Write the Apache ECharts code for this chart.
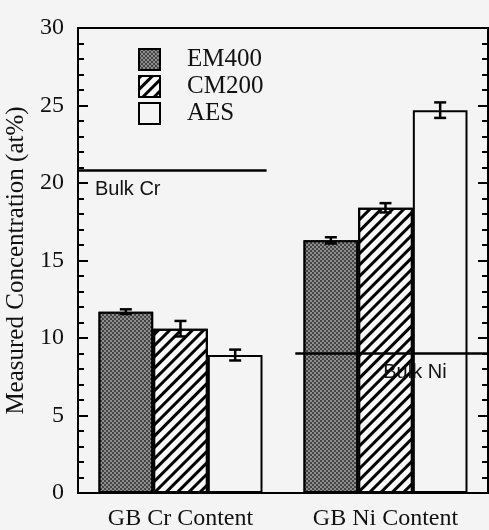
<!DOCTYPE html>
<html>
<head>
<meta charset="utf-8">
<script src="https://cdn.jsdelivr.net/npm/echarts@6/dist/echarts.min.js"></script>
<style>
  html, body { margin: 0; padding: 0; background: #f4f4f4; }
  #main { width: 489px; height: 530px; }
</style>
</head>
<body>
<div id="main"></div>
<script>
const categories = ['GB Cr Content', 'GB Ni Content'];
const methods = ['EM400', 'CM200', 'AES'];
const em400 = [11.7, 16.3];
const em400Err = [0.15, 0.2];
const cm200 = [10.6, 18.4];
const cm200Err = [0.5, 0.3];
const aes = [8.9, 24.7];
const aesErr = [0.35, 0.5];
const yTicks = [0, 5, 10, 15, 20, 25, 30];
// bulk reference lines: [value, start, end] on a 0..2 horizontal scale
const bulkCr = [20.8, 0, 0.92];
const bulkNi = [9.0, 1.06, 2];

const serif = 'Liberation Serif';
const values = [em400, cm200, aes];
const errs = [em400Err, cm200Err, aesErr];

let errData = [];
values.forEach(function (vals, k) {
	vals.forEach(function (v, i) {
		errData.push([i, v - errs[k][i], v + errs[k][i], k]);
	});
});

const chart = echarts.init(document.getElementById('main'));

const axisY = {
	type: 'value',
	min: yTicks[0],
	max: yTicks[yTicks.length - 1],
	interval: 5,
	axisLine: { show: true, lineStyle: { color: '#000', width: 2 } },
	axisTick: { show: true, inside: true, length: 10, lineStyle: { color: '#000', width: 2 } },
	minorTick: { show: true, splitNumber: 5, length: 6, lineStyle: { color: '#000', width: 2 } },
	splitLine: { show: false }
};

function bulkLabel(text, dx) {
	return {
		show: true,
		formatter: function (p) { return p.dataIndex === 0 ? text : ''; },
		position: [dx, 9],
		fontFamily: 'Liberation Sans', fontSize: 20, color: '#111'
	};
}

const option = {
	backgroundColor: '#f4f4f4',
	animation: false,
	grid: {
		left: 78, top: 28, right: 1, bottom: 37,
		outerBoundsMode: 'none',
		show: true, borderColor: '#000', borderWidth: 2
	},
	legend: {
		data: methods,
		orient: 'vertical',
		left: 138, top: 47,
		icon: 'rect',
		itemWidth: 21, itemHeight: 21, itemGap: 2,
		padding: 0,
		textStyle: { fontFamily: serif, fontSize: 25, color: '#111', padding: [0, 0, 0, 22] }
	},
	xAxis: [{
		type: 'category',
		data: categories,
		axisLine: { show: true, lineStyle: { color: '#000', width: 2 } },
		axisTick: { show: false },
		axisLabel: { fontFamily: serif, fontSize: 24, color: '#111', margin: 14 }
	}, {
		type: 'value', min: 0, max: 2, show: false
	}],
	yAxis: [Object.assign({}, axisY, {
		position: 'left',
		name: 'Measured Concentration (at%)',
		nameLocation: 'middle',
		nameGap: 45,
		nameTextStyle: { fontFamily: serif, fontSize: 25, color: '#111' },
		axisLabel: { fontFamily: serif, fontSize: 24, color: '#111', margin: 14 }
	}), Object.assign({}, axisY, {
		position: 'right',
		axisLabel: { show: false }
	})],
	series: [{
		name: 'EM400', type: 'bar', data: em400,
		barGap: 0, barCategoryGap: '20%',
		itemStyle: {
			color: '#444', borderColor: '#000', borderWidth: 2,
			decal: {
				symbol: 'rect', symbolSize: 1, color: 'rgba(255,255,255,0.4)',
				dashArrayX: [[2, 2], [0, 2, 2, 0]], dashArrayY: [2, 0]
			}
		}
	}, {
		name: 'CM200', type: 'bar', data: cm200,
		itemStyle: {
			color: '#fafafa', borderColor: '#000', borderWidth: 2,
			decal: {
				symbol: 'rect', symbolSize: 1, color: '#000',
				dashArrayX: [1, 0], dashArrayY: [3, 5], rotation: -Math.PI / 4
			}
		}
	}, {
		name: 'AES', type: 'bar', data: aes,
		itemStyle: { color: '#f4f4f4', borderColor: '#000', borderWidth: 2 }
	}, {
		name: 'err', type: 'custom', data: errData, z: 5,
		renderItem: function (params, api) {
			let lo = api.coord([api.value(0), api.value(1)]);
			let hi = api.coord([api.value(0), api.value(2)]);
			let band = api.size([1, 0])[0];
			let bw = band * 0.8 / 3;
			let cx = lo[0] + (api.value(3) - 1) * bw;
			let style = { stroke: '#000', lineWidth: 2.5 };
			return {
				type: 'group',
				children: [
					{ type: 'line', shape: { x1: cx, y1: lo[1], x2: cx, y2: hi[1] }, style: style },
					{ type: 'line', shape: { x1: cx - 6, y1: lo[1], x2: cx + 6, y2: lo[1] }, style: style },
					{ type: 'line', shape: { x1: cx - 6, y1: hi[1], x2: cx + 6, y2: hi[1] }, style: style }
				]
			};
		}
	}, {
		name: 'Bulk Cr', type: 'line', xAxisIndex: 1, z: 4,
		symbol: 'circle', symbolSize: 0.1, showSymbol: true,
		lineStyle: { color: '#000', width: 2.5 },
		itemStyle: { color: '#000' },
		data: [[bulkCr[1], bulkCr[0]], [bulkCr[2], bulkCr[0]]],
		label: bulkLabel('Bulk Cr', 17)
	}, {
		name: 'Bulk Ni', type: 'line', xAxisIndex: 1, z: 4,
		symbol: 'circle', symbolSize: 0.1, showSymbol: true,
		lineStyle: { color: '#000', width: 2.5 },
		itemStyle: { color: '#000' },
		data: [[bulkNi[1], bulkNi[0]], [bulkNi[2], bulkNi[0]]],
		label: bulkLabel('Bulk Ni', 88)
	}]
};

chart.setOption(option);
</script>
</body>
</html>
